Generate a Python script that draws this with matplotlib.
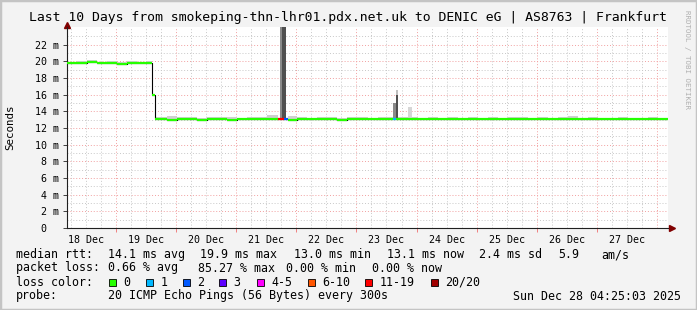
import matplotlib
matplotlib.use("Agg")
import matplotlib.pyplot as plt
from matplotlib.patches import Rectangle
from matplotlib.transforms import ScaledTranslation
from datetime import datetime

# --- data (hours since start of the 10 day window, values in ms) ---
start = datetime(2025, 12, 18, 4, 25, 3)

med_h = [0, 4, 8, 12, 16, 20, 24, 28, 32, 34, 35, 40, 44, 48, 52, 56, 60, 64, 68,
         72, 76, 80, 84.4, 86.8, 88.4, 92, 96, 100, 104, 108, 112, 116, 120, 124,
         128, 130.3, 131.2, 136, 140, 144, 148, 152, 156, 160, 164, 168, 172, 176,
         180, 184, 188, 192, 196, 200, 204, 208, 212, 216, 220, 224, 228, 232, 236, 240]
med_ms = [19.8, 19.8, 19.9, 19.8, 19.8, 19.7, 19.8, 19.8, 19.8, 15.9, 13.1, 13.0,
          13.1, 13.1, 13.0, 13.1, 13.1, 13.0, 13.1, 13.1, 13.1, 13.1, 13.1, 13.1,
          13.0, 13.1, 13.1, 13.1, 13.1, 13.0, 13.1, 13.1, 13.1, 13.1, 13.1, 13.1,
          13.1, 13.1, 13.1, 13.1, 13.1, 13.1, 13.1, 13.1, 13.1, 13.1, 13.1, 13.1,
          13.1, 13.1, 13.1, 13.1, 13.1, 13.1, 13.1, 13.1, 13.1, 13.1, 13.1, 13.1,
          13.1, 13.1, 13.1, 13.1]
smoke_top = [19.95, 20.0, 20.1, 19.95, 20.0, 19.9, 20.05, 19.95, 20.0, 16.0, 13.3,
             13.4, 13.25, 13.3, 13.2, 13.35, 13.25, 13.3, 13.2, 13.3, 13.25, 13.5,
             13.1, 13.1, 13.4, 13.25, 13.2, 13.3, 13.25, 13.2, 13.3, 13.25, 13.2,
             13.3, 13.25, 13.1, 13.3, 13.25, 13.2, 13.3, 13.2, 13.25, 13.2, 13.3,
             13.2, 13.25, 13.2, 13.3, 13.25, 13.2, 13.3, 13.2, 13.25, 13.45, 13.2,
             13.25, 13.2, 13.2, 13.25, 13.2, 13.2, 13.25, 13.2, 13.2]
# loss class index per median step (0 = no loss)
loss_idx = [0] * 22 + [6, 2] + [0] * 11 + [1] + [0] * 28

spike_start = [84.9, 86.0, 130.3, 131.2, 131.2, 136.3]
spike_end = [86.0, 87.3, 131.2, 132.3, 132.3, 137.9]
spike_low = [13.1, 13.1, 13.1, 13.1, 16.0, 13.1]
spike_high = [24.5, 24.5, 15.0, 16.0, 16.6, 14.5]
spike_shade = ['#8a8a8a', '#505050', '#8a8a8a', '#505050', '#c0c0c0', '#d6d6d6']

loss_labels = ['0', '1', '2', '3', '4-5', '6-10', '11-19', '20/20']
loss_colors = ['#26ff00', '#00b8ff', '#0059ff', '#5e00ff', '#ff00ff', '#ff5500',
               '#ff0000', '#a10000']

days = list(range(18, 28))
day_labels = ['%d Dec' % d for d in days]

W, H = 697, 310
mono = 'DejaVu Sans Mono'


def fx(px):
    return px / W


def fy(py):
    return 1 - py / H


def hours(dt):
    return (dt - start).total_seconds() / 3600


fig = plt.figure(figsize=(W / 100, H / 100), dpi=100, facecolor='#f3f3f3')
fig.patches.append(Rectangle((0, 0), 1, 1, transform=fig.transFigure, fill=False,
                             edgecolor='#c4c4c4', lw=2.5))
ax = fig.add_axes([fx(67), fy(228), fx(668) - fx(67), fy(27) - fy(228)])
ax.set_facecolor('white')
ax.set_xlim(0, 240)
ax.set_ylim(0, 24.1)

# grid
for v in range(1, 24):
    if v % 2 == 0:
        ax.axhline(v, color='#f2a0a0', lw=0.7, ls=(0, (1, 2)), zorder=0)
    else:
        ax.axhline(v, color='#c8c8c8', lw=0.7, ls=(0, (1, 2)), zorder=0)
midnights = [hours(datetime(2025, 12, d + 1)) for d in days]
for d in days + [28]:
    for hh in (0, 6, 12, 18):
        t = hours(datetime(2025, 12, d, hh))
        if 0 < t < 240:
            col = '#f2a0a0' if hh == 0 else '#c8c8c8'
            ax.axvline(t, color=col, lw=0.7, ls=(0, (1, 2)), zorder=0)

# smoke
ax.fill_between(med_h, med_ms, smoke_top, step='post', color='#cfcfcf', lw=0, zorder=1)
ax.bar(spike_start, [hi - lo for hi, lo in zip(spike_high, spike_low)],
       width=[e - s for s, e in zip(spike_start, spike_end)], bottom=spike_low,
       align='edge', color=spike_shade, lw=0, zorder=2)

# median, coloured by loss
ax.step(med_h, med_ms, where='post', color='black', lw=0.8, zorder=3)
ax.hlines(med_ms[:-1], med_h[:-1], med_h[1:], colors=[loss_colors[i] for i in loss_idx[:-1]],
          lw=1.6, zorder=4)

# axes
for s in ('top', 'right'):
    ax.spines[s].set_visible(False)
for s in ('left', 'bottom'):
    ax.spines[s].set_color('#202020')
    ax.spines[s].set_linewidth(0.8)
ax.plot(0, 1.01, marker='^', color='#800000', ms=4, transform=ax.transAxes, clip_on=False)
ax.plot(1.006, 0, marker='>', color='#800000', ms=4, transform=ax.transAxes, clip_on=False)

yt = list(range(0, 24, 2))
ax.set_yticks(yt, ['0'] + ['%d m' % v for v in yt[1:]])
ax.tick_params(axis='y', length=3, width=0.7, color='#404040', pad=3,
               labelsize=7.2, labelfontfamily=mono)
zero_lbl = ax.get_yticklabels()[0]
zero_lbl.set_transform(zero_lbl.get_transform() + ScaledTranslation(-0.12, 0, fig.dpi_scale_trans))
ax.set_xticks([hours(datetime(2025, 12, d, 12)) for d in days], day_labels)
ax.tick_params(axis='x', length=0, pad=5, labelsize=7.2, labelfontfamily=mono)
ax.set_xticks(midnights[:-1], minor=True)
ax.tick_params(axis='x', which='minor', length=3, width=0.7, color='#f08080')

# texts
fig.text(fx(348), fy(18), 'Last 10 Days from smokeping-thn-lhr01.pdx.net.uk to DENIC eG | AS8763 | Frankfurt',
         ha='center', va='center', fontsize=9.45, family=mono)
fig.text(fx(10), fy(127), 'Seconds', rotation=90, ha='center', va='center', fontsize=7.8, family=mono)
fig.text(fx(687), fy(59), 'RRDTOOL / TOBI OETIKER', rotation=270, ha='center', va='center',
         fontsize=5.4, family=mono, color='#b0b0b0')

fs = 8.4
rows = [
    (254.5, [(16, 'median rtt:'), (108, '14.1 ms avg'), (200, '19.9 ms max'), (294, '13.0 ms min'),
             (387, '13.1 ms now'), (479, '2.4 ms sd'), (558, '5.9'), (601, 'am/s')]),
    (268, [(16, 'packet loss:'), (108, '0.66 % avg'), (198, '85.27 % max'), (286, '0.00 % min'),
           (372, '0.00 % now')]),
    (282, [(16, 'loss color:')]),
    (296, [(16, 'probe:'), (108, '20 ICMP Echo Pings (56 Bytes) every 300s'),
           (513, 'Sun Dec 28 04:25:03 2025')]),
]
for y, items in rows:
    for x, s in items:
        fig.text(fx(x), fy(y), s, ha='left', va='center', fontsize=fs, family=mono)

box_left = [108.7, 145.7, 182.7, 219, 257, 308, 364.7, 431]
for x, lab, col in zip(box_left, loss_labels, loss_colors):
    fig.patches.append(Rectangle((fx(x), fy(286)), fx(7), 7 / H, transform=fig.transFigure,
                                 facecolor=col, edgecolor='black', lw=0.6))
    fig.text(fx(x + 14.5), fy(282), lab, ha='left', va='center', fontsize=fs, family=mono)

fig.savefig('out.png', dpi=100, facecolor=fig.get_facecolor())
